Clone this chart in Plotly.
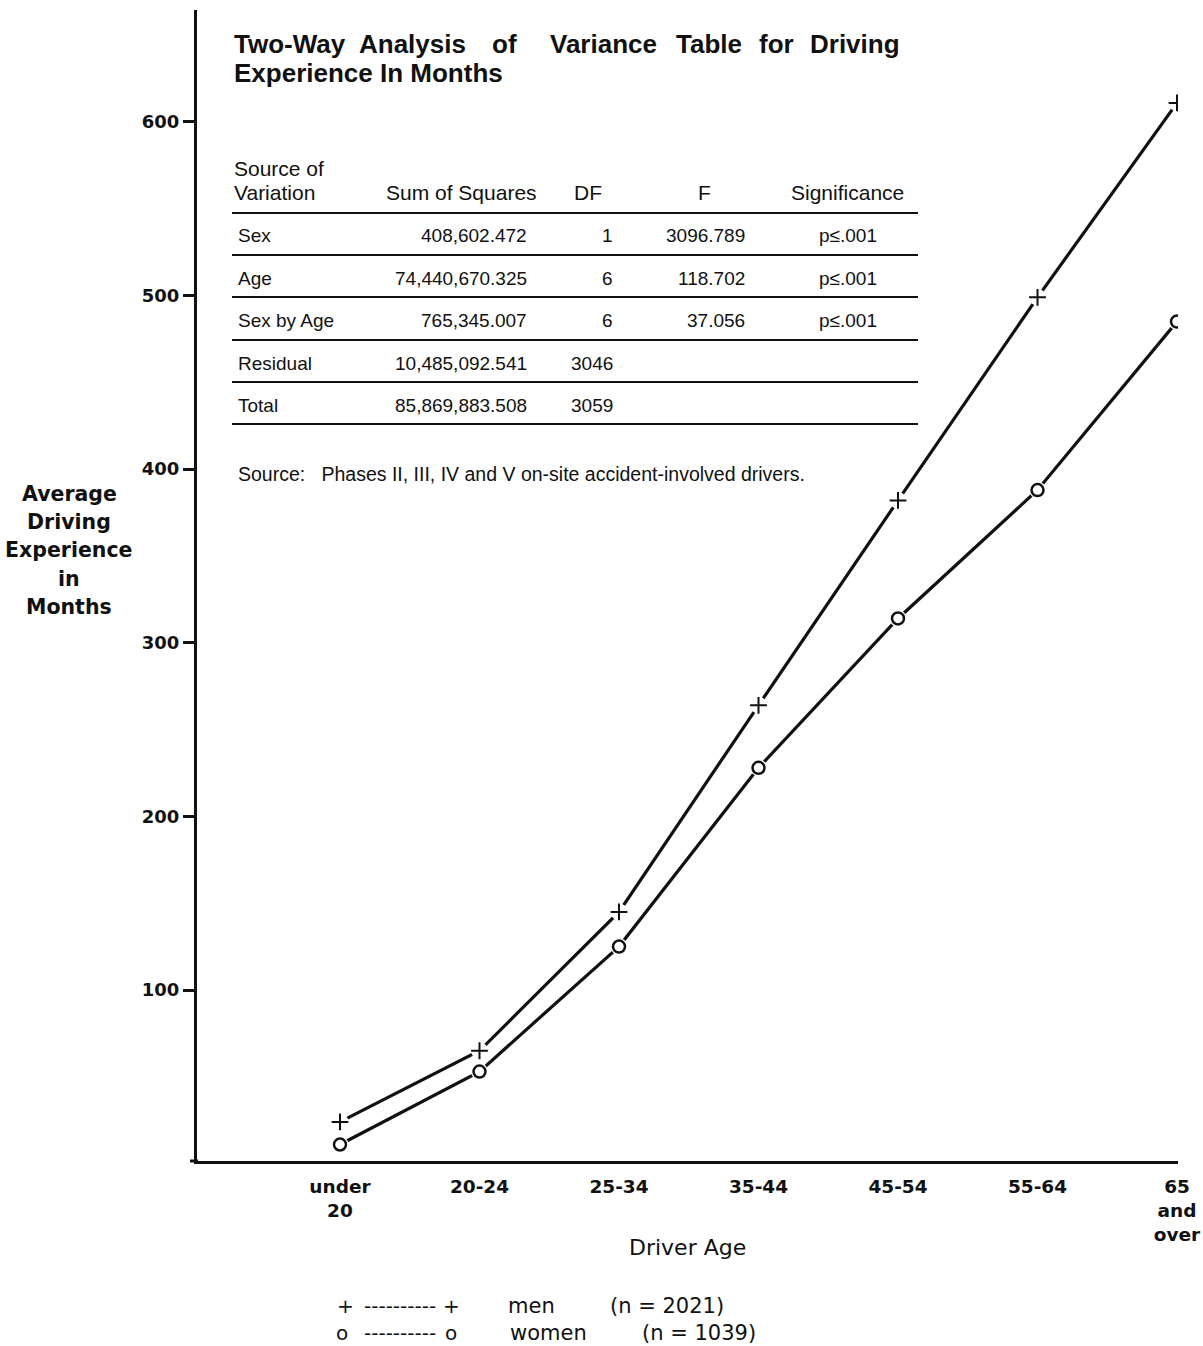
import plotly.graph_objects as go

# ---------------- data ----------------
age_labels = ["under<br>20", "20-24", "25-34", "35-44", "45-54", "55-64", "65<br>and<br>over"]
men = [24, 65, 145, 264, 382, 499, 611]
women = [11, 53, 125, 228, 314, 388, 485]
y_ticks = [100, 200, 300, 400, 500, 600]

series_names = ["men", "women"]
series_n = ["(n = 2021)", "(n = 1039)"]

table_title = ["Two-Way", "Analysis", "of", "Variance", "Table", "for", "Driving"]
table_title2 = "Experience In Months"
tbl_headers = ["Sum of Squares", "DF", "F", "Significance"]
tbl_source = ["Sex", "Age", "Sex by Age", "Residual", "Total"]
tbl_ss = ["408,602.472", "74,440,670.325", "765,345.007", "10,485,092.541", "85,869,883.508"]
tbl_df = ["1", "6", "6", "3046", "3059"]
tbl_f = ["3096.789", "118.702", "37.056", "", ""]
tbl_sig = ["p\u2264.001", "p\u2264.001", "p\u2264.001", "", ""]
source_note = "Source:   Phases II, III, IV and V on-site accident-involved drivers."
y_title_lines = ["Average", "Driving", "Experience", "in", "Months"]
x_title = "Driver Age"

# ---------------- layout helpers ----------------
PL, PR, PT, PB = 197, 1178, 10, 1161   # plot area in page pixels
W, H = 1203, 1346
L, R, T, B = PL, W - PR, PT, H - PB


def px(x):
    return (x - PL) / (PR - PL)


def py(y):
    return (PB - y) / (PB - PT)


AX_FONT = "DejaVu Sans"
TB_FONT = "Liberation Sans, Arial"
INK = "#111111"

fig = go.Figure()

# lines
for vals in (men, women):
    fig.add_trace(go.Scatter(x=age_labels, y=vals, mode="lines",
                             line=dict(color=INK, width=3.2), showlegend=False,
                             hoverinfo="skip"))
# white gaps around markers
for vals in (men, women):
    fig.add_trace(go.Scatter(x=age_labels, y=vals, mode="markers",
                             marker=dict(symbol="circle", size=17, color="white",
                                         line=dict(width=0)),
                             showlegend=False, hoverinfo="skip"))
# markers
fig.add_trace(go.Scatter(x=age_labels, y=men, mode="markers", name=series_names[0],
                         marker=dict(symbol="cross-thin", size=12, color=INK,
                                     line=dict(color=INK, width=2)),
                         showlegend=False))
fig.add_trace(go.Scatter(x=age_labels, y=women, mode="markers", name=series_names[1],
                         marker=dict(symbol="circle-open", size=12, color=INK,
                                     line=dict(color=INK, width=2.5)),
                         showlegend=False))

annotations = []
shapes = []


def txt(x, y, s, size=19, font=TB_FONT, anchor="left", bold=False):
    if bold:
        s = "<b>" + s + "</b>"
    annotations.append(dict(x=px(x), y=py(y), xref="paper", yref="paper", text=s,
                            showarrow=False, xanchor=anchor, yanchor="middle",
                            font=dict(family=font, size=size, color=INK)))


# title (justified words)
title_x = [232, 357, 490, 548, 674, 757, 808]
for wx, w in zip(title_x, table_title):
    txt(wx, 44, w, size=26, bold=True)
txt(232, 73, table_title2, size=26, bold=True)

# table header
txt(232, 168, "Source of", size=21)
txt(232, 193, "Variation", size=21)
hdr_x = [461, 588, 704, 847]
for hx, h in zip(hdr_x, tbl_headers):
    txt(hx, 193, h, size=21, anchor="center")

row_y = [236, 278, 320, 363, 405]
for i, ry in enumerate(row_y):
    txt(236, ry, tbl_source[i], size=19)
    txt(529, ry, tbl_ss[i], size=19, anchor="right")
    txt(615, ry, tbl_df[i], size=19, anchor="right")
    if tbl_f[i]:
        txt(747, ry, tbl_f[i], size=19, anchor="right")
    if tbl_sig[i]:
        txt(848, ry, tbl_sig[i], size=19, anchor="center")

for ly in [213, 255, 297, 340, 382, 424]:
    shapes.append(dict(type="line", xref="paper", yref="paper",
                       x0=px(232), x1=px(918), y0=py(ly), y1=py(ly),
                       line=dict(color=INK, width=2)))

# small extension of the x-axis line to the left of the y axis
shapes.append(dict(type="line", xref="paper", yref="paper",
                   x0=px(190), x1=px(198), y0=0, y1=0,
                   line=dict(color=INK, width=3)))

txt(236, 474, source_note, size=19.5)

# y axis title (one annotation per line)
for i, line in enumerate(y_title_lines):
    txt(69, 494 + i * 28.2, line, size=20.5, font=AX_FONT, anchor="center", bold=True)

# x axis title
txt(687, 1248, x_title, size=22, font=AX_FONT, anchor="center")

# legend key
txt(345, 1306, "+", size=20, font=AX_FONT, anchor="center")
txt(400, 1306, "----------", size=20, font=AX_FONT, anchor="center")
txt(451, 1306, "+", size=20, font=AX_FONT, anchor="center")
txt(506, 1306, series_names[0], size=21, font=AX_FONT)
txt(608, 1306, series_n[0], size=21, font=AX_FONT)
txt(342, 1333, "o", size=20, font=AX_FONT, anchor="center")
txt(400, 1333, "----------", size=20, font=AX_FONT, anchor="center")
txt(451, 1333, "o", size=20, font=AX_FONT, anchor="center")
txt(508, 1333, series_names[1], size=21, font=AX_FONT)
txt(640, 1333, series_n[1], size=21, font=AX_FONT)

fig.update_layout(
    width=W, height=H,
    margin=dict(l=L, r=R, t=T, b=B, autoexpand=False),
    paper_bgcolor="white", plot_bgcolor="white",
    showlegend=False,
    annotations=annotations, shapes=shapes,
    xaxis=dict(type="category", range=[-1.025, 6.007], showgrid=False, zeroline=False,
               showline=True, linecolor=INK, linewidth=3, ticks="",
               tickmode="array", tickvals=age_labels,
               ticktext=["<b>%s</b>" % s for s in age_labels],
               ticklabelstandoff=7,
               tickfont=dict(family=AX_FONT, size=18.5, color=INK)),
    yaxis=dict(range=[1.5, 664.5], showgrid=False, zeroline=False,
               showline=True, linecolor=INK, linewidth=3,
               tickmode="array", tickvals=y_ticks, ticktext=["<b>%d</b>" % v for v in y_ticks],
               ticks="outside", ticklen=11, tickwidth=3, tickcolor=INK,
               tickfont=dict(family=AX_FONT, size=18, color=INK)),
)

fig.write_html("out.html", config={"displayModeBar": False},
               post_script="document.body.style.margin='0px';document.body.style.overflow='hidden';")
